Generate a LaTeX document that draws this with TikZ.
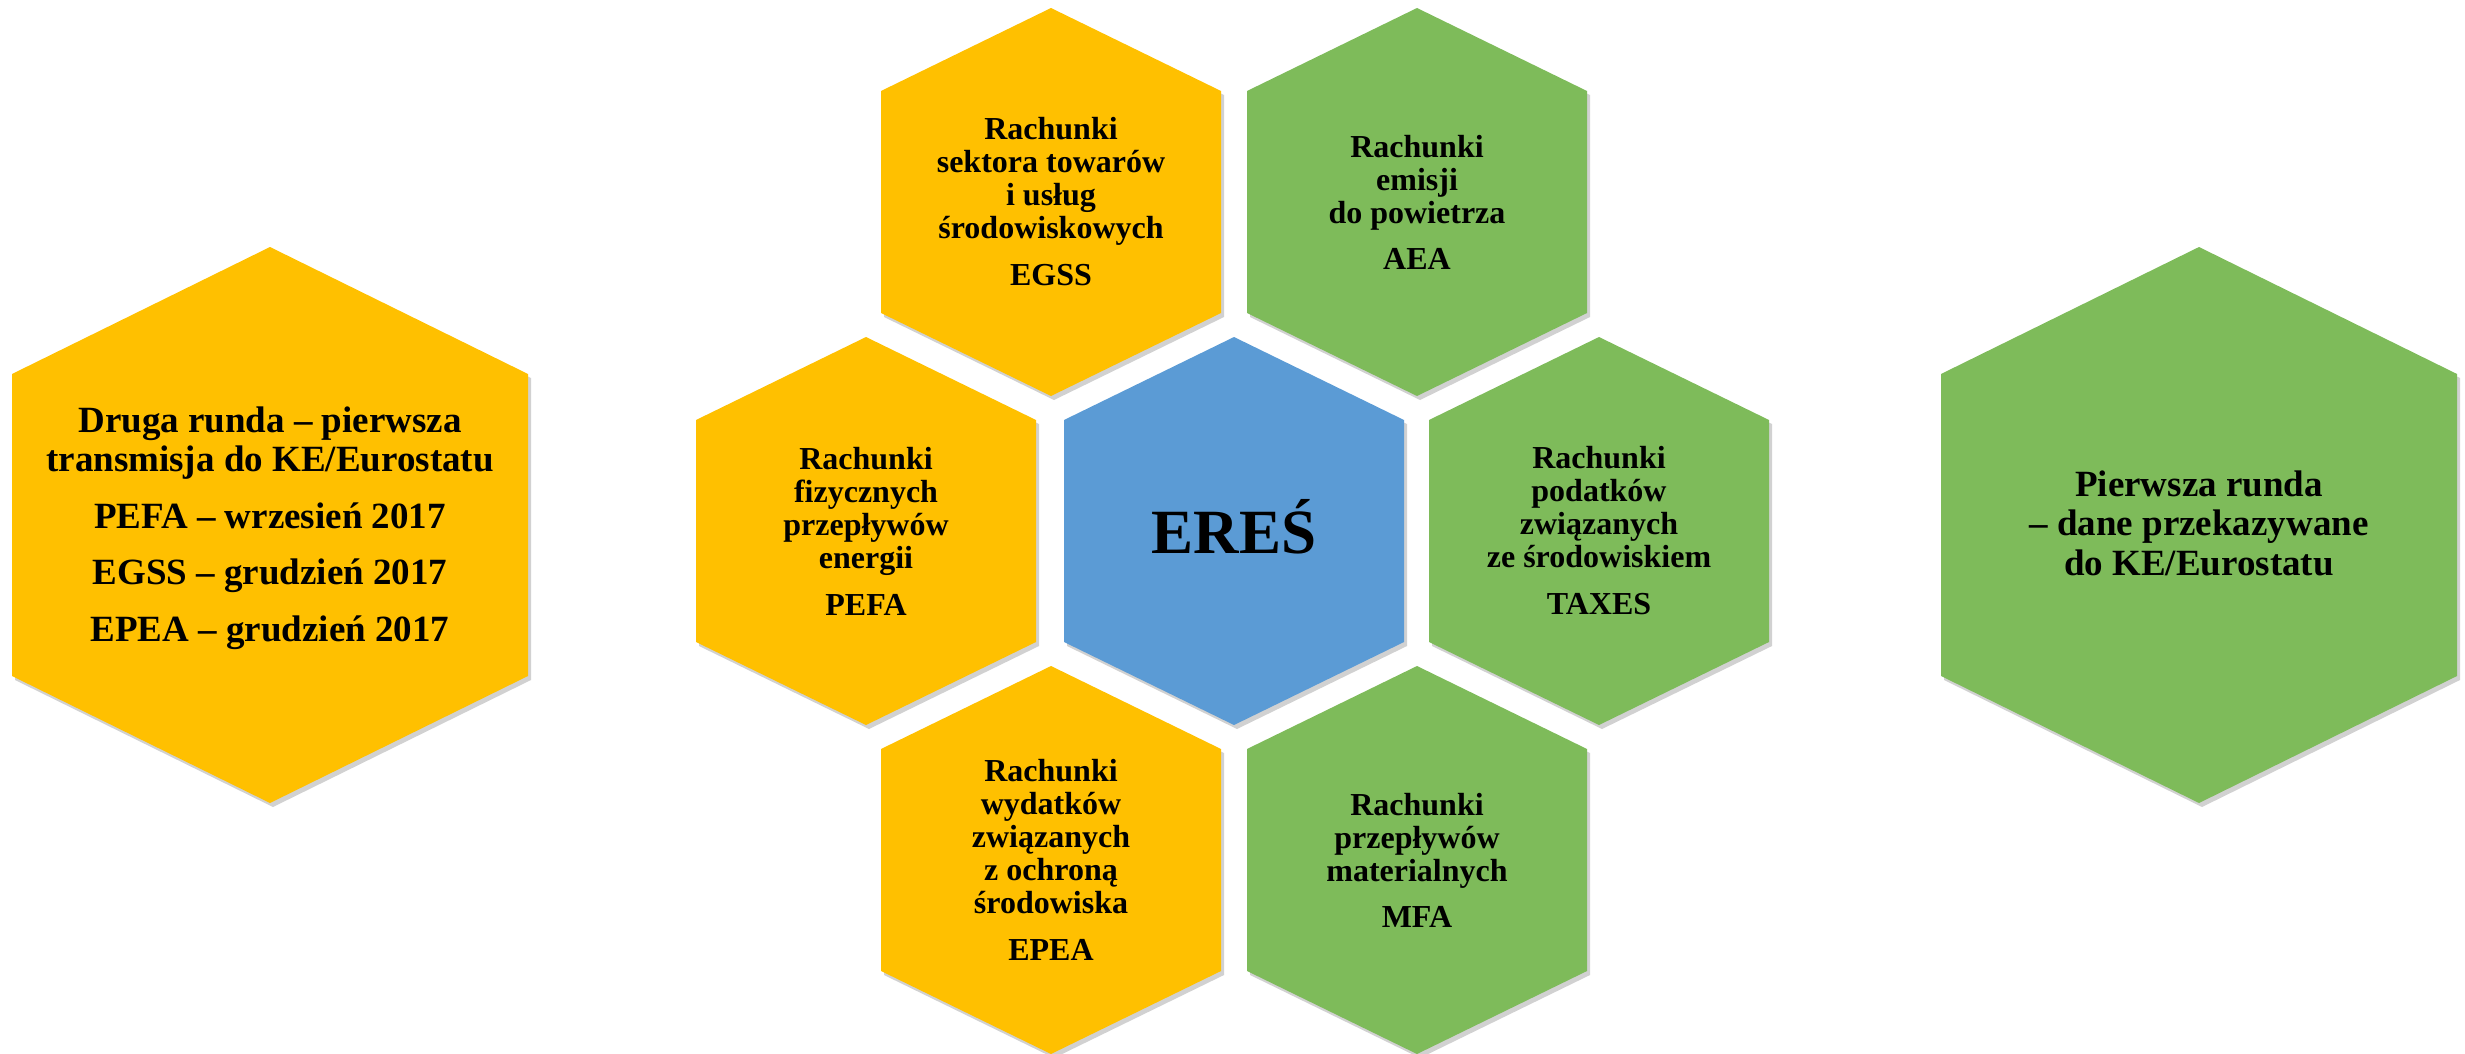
\documentclass[tikz,border=0pt]{standalone}
\usepackage{fontspec}
\setmainfont{Liberation Serif}
\usepackage{tikz}
\usetikzlibrary{shadows}
\definecolor{hexyellow}{HTML}{FFC000}
\definecolor{hexgreen}{HTML}{7EBB5A}
\definecolor{hexblue}{HTML}{5B9BD5}
\tikzstyle{hexshadow} = [drop shadow={shadow xshift=3pt, shadow yshift=-4pt, opacity=0.3, fill=black!60}]
\tikzstyle{hextext} = [font=\bfseries\fontsize{32}{33}\selectfont, align=center]
\tikzstyle{sidetext} = [font=\bfseries\fontsize{37}{39.5}\selectfont, align=center]

\begin{document}
\begin{tikzpicture}[x=1pt, y=-1pt]
\useasboundingbox (0,0) rectangle (2465,1054);

% side hexagons
\foreach \x/\col in {270/hexyellow, 2199/hexgreen}{
  \fill[\col, hexshadow] (\x,247) -- (\x+258,374) -- (\x+258,676) -- (\x,803) -- (\x-258,676) -- (\x-258,374) -- cycle;
}
% honeycomb
\foreach \x/\y/\col in {1051/202/hexyellow, 1417/202/hexgreen, 866/531/hexyellow, 1234/531/hexblue, 1599/531/hexgreen, 1051/860/hexyellow, 1417/860/hexgreen}{
  \fill[\col, hexshadow] (\x,\y-194) -- (\x+170,\y-111) -- (\x+170,\y+111) -- (\x,\y+194) -- (\x-170,\y+111) -- (\x-170,\y-111) -- cycle;
}

\node[sidetext] (runda2) at (270,528) {Druga runda – pierwsza\\transmisja do KE/Eurostatu\\[17pt]PEFA – wrzesień 2017\\[17pt]EGSS – grudzień 2017\\[17pt]EPEA – grudzień 2017};
\node[sidetext] (runda1) at (2199,523) {Pierwsza runda\\– dane przekazywane\\do KE/Eurostatu};

\node[hextext] (egss) at (1051,202) {Rachunki\\sektora towarów\\i usług\\środowiskowych\\[14pt]EGSS};
\node[hextext] (aea) at (1417,202) {Rachunki\\emisji\\do powietrza\\[13pt]AEA};
\node[hextext] (pefa) at (866,531) {Rachunki\\fizycznych\\przepływów\\energii\\[14pt]PEFA};
\node[font=\bfseries\fontsize{63}{66}\selectfont] (eres) at (1234,527) {EREŚ};
\node[hextext] (taxes) at (1599,531) {Rachunki\\podatków\\związanych\\ze środowiskiem\\[14pt]TAXES};
\node[hextext] (epea) at (1051,860) {Rachunki\\wydatków\\związanych\\z ochroną\\środowiska\\[14pt]EPEA};
\node[hextext] (mfa) at (1417,860) {Rachunki\\przepływów\\materialnych\\[13pt]MFA};
\end{tikzpicture}
\end{document}
